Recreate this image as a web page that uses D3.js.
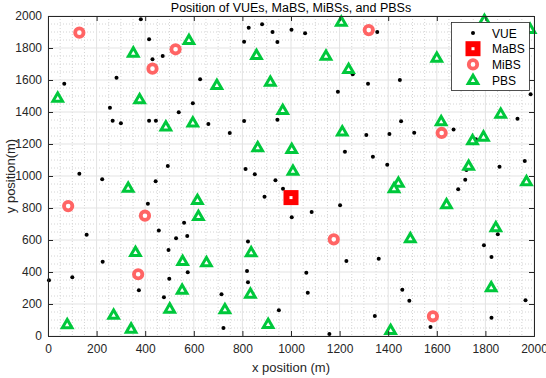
<!DOCTYPE html>
<html>
<head>
<meta charset="utf-8">
<script src="https://cdn.jsdelivr.net/npm/d3@7"></script>
<style>
  body { margin: 0; background: #fff; }
  svg { font-family: "Liberation Sans", Arial, sans-serif; }
  .tick text { fill: #262626; font-size: 12px; }
</style>
</head>
<body>
<div id="chart"></div>
<script>
// VUE positions (m)
var vueX = [382, 416, 430, 472, 282, 626, 67, 255, 596, 538, 266, 300, 416, 444, 660,
    826, 881, 924, 807, 944, 1002, 1058, 1254, 1317, 1193, 807, 944, 1355, 1448, 1986,
    1932, 1453, 1669, 129, 223, 443, 493, 411, 560, 159, 456, 527, 573, 748, 1310,
    1222, 813, 851, 936, 967, 891, 1202, 1085, 1003, 823, 1405, 1507, 1761, 1337, 1396,
    1722, 1858, 1962, 1717, 1688, 1851, 496, 225, 4, 100, 499, 575, 374, 477, 1228,
    819, 1063, 823, 714, 1069, 950, 722, 1158, 1794, 1825, 1361, 1458, 1487, 1965, 1345,
    1825, 1574];
var vueY = [1979, 1854, 1729, 1750, 1614, 1604, 1577, 1427, 1454, 1398, 1346, 1329, 1346, 1346, 1325,
    1927, 1948, 1900, 1839, 1838, 1914, 1892, 1636, 1577, 1527, 1344, 1352, 1900, 1600, 1511,
    1358, 1342, 1291, 1014, 979, 967, 1062, 827, 708, 633, 659, 611, 625, 1269, 1257,
    1152, 1044, 1011, 973, 921, 871, 817, 775, 742, 591, 1262, 1271, 1229, 1121, 1071,
    1037, 1058, 1094, 977, 917, 636, 537, 464, 348, 367, 358, 398, 286, 242, 469,
    406, 396, 336, 261, 271, 161, 50, 12, 567, 494, 483, 289, 221, 223, 125,
    114, 56];

// MaBS position
var mabsX = [1000];
var mabsY = [865];

// MiBS positions
var mibsX = [129, 525, 430, 1320, 1620, 83, 399, 1176, 371, 1584];
var mibsY = [1896, 1792, 1671, 1912, 1269, 812, 752, 604, 386, 123];

// PBS positions
var pbsX = [580, 351, 40, 377, 485, 596, 1207, 858, 1144, 1237, 695, 915, 966, 1211, 1984,
    1796, 1600, 1863, 1618, 330, 615, 619, 863, 1003, 1008, 1747, 1792, 1731, 1442, 1424,
    1969, 1640, 1843, 1491, 360, 554, 652, 552, 501, 270, 79, 342, 836, 833, 728,
    906, 1824, 1410];
var pbsY = [1850, 1771, 1489, 1479, 1309, 1334, 1964, 1756, 1752, 1669, 1569, 1589, 1412, 1278, 1919,
    1975, 1739, 1389, 1342, 927, 850, 750, 1179, 1169, 1033, 1223, 1246, 1064, 958, 923,
    967, 823, 679, 611, 525, 469, 461, 289, 171, 133, 73, 46, 523, 264, 167,
    75, 304, 37];

var axisTicks = [0, 200, 400, 600, 800, 1000, 1200, 1400, 1600, 1800, 2000];
var minorTicks = d3.range(0, 2001, 50);

var svgWidth = 546;
var svgHeight = 378;

var margin = {
    top: 16,
    bottom: 42,
    right: 12,
    left: 48
};

var width = svgWidth - margin.left - margin.right;
var height = svgHeight - margin.top - margin.bottom;

var svg = d3
    .select("#chart")
    .append("svg")
    .attr("width", svgWidth)
    .attr("height", svgHeight);

var plot = svg.append("g")
    .attr("transform", `translate(${margin.left}, ${margin.top})`);

var xScale = d3.scaleLinear().domain([0, 2000]).range([0, width]);
var yScale = d3.scaleLinear().domain([0, 2000]).range([height, 0]);

// minor grid (dotted)
plot.append("g")
    .selectAll("line")
    .data(minorTicks.filter(d => d % 200 != 0))
    .enter()
    .append("line")
    .attr("x1", d => xScale(d)).attr("x2", d => xScale(d))
    .attr("y1", 0).attr("y2", height)
    .attr("stroke", "#d4d4d4")
    .attr("stroke-dasharray", "1,2");

plot.append("g")
    .selectAll("line")
    .data(minorTicks.filter(d => d % 200 != 0))
    .enter()
    .append("line")
    .attr("y1", d => yScale(d)).attr("y2", d => yScale(d))
    .attr("x1", 0).attr("x2", width)
    .attr("stroke", "#d4d4d4")
    .attr("stroke-dasharray", "1,2");

// major grid
plot.append("g")
    .selectAll("line")
    .data(axisTicks)
    .enter()
    .append("line")
    .attr("x1", d => xScale(d)).attr("x2", d => xScale(d))
    .attr("y1", 0).attr("y2", height)
    .attr("stroke", "#e3e3e3");

plot.append("g")
    .selectAll("line")
    .data(axisTicks)
    .enter()
    .append("line")
    .attr("y1", d => yScale(d)).attr("y2", d => yScale(d))
    .attr("x1", 0).attr("x2", width)
    .attr("stroke", "#e3e3e3");

// markers
var vueData = vueX.map((x, i) => ({ x: x, y: vueY[i] }));
var mabsData = mabsX.map((x, i) => ({ x: x, y: mabsY[i] }));
var mibsData = mibsX.map((x, i) => ({ x: x, y: mibsY[i] }));
var pbsData = pbsX.map((x, i) => ({ x: x, y: pbsY[i] }));

var red = "#ff0000";
var pink = "#ff6464";
var green = "#00c83c";

function drawVue(g) {
    g.append("circle").attr("r", 2).attr("fill", "#000");
}
function drawMabs(g) {
    g.append("rect")
        .attr("x", -4.5).attr("y", -4.5)
        .attr("width", 9).attr("height", 9)
        .attr("fill", "#fff")
        .attr("stroke", red)
        .attr("stroke-width", 6);
}
function drawMibs(g) {
    g.append("circle")
        .attr("r", 4.2)
        .attr("fill", "#fff")
        .attr("stroke", pink)
        .attr("stroke-width", 3.8);
}
function drawPbs(g) {
    g.append("path")
        .attr("d", "M0,-4.8L4.8,3.5L-4.8,3.5Z")
        .attr("fill", "#fff")
        .attr("stroke", green)
        .attr("stroke-width", 3)
        .attr("stroke-linejoin", "miter");
}

function addMarkers(data, drawFn) {
    plot.append("g")
        .selectAll("g")
        .data(data)
        .enter()
        .append("g")
        .attr("transform", d => `translate(${xScale(d.x)}, ${yScale(d.y)})`)
        .each(function () { drawFn(d3.select(this)); });
}

addMarkers(vueData, drawVue);
addMarkers(mabsData, drawMabs);
addMarkers(mibsData, drawMibs);
addMarkers(pbsData, drawPbs);

// axes with inward ticks on all four sides
var axisColor = "#262626";
var fmt = d3.format("d");

var xAxis = plot.append("g")
    .attr("transform", `translate(0, ${height})`)
    .call(d3.axisBottom(xScale).tickValues(axisTicks).tickSize(-5).tickPadding(8).tickFormat(fmt));
var yAxis = plot.append("g")
    .call(d3.axisLeft(yScale).tickValues(axisTicks).tickSize(-5).tickPadding(6).tickFormat(fmt));
var xTop = plot.append("g")
    .call(d3.axisTop(xScale).tickValues(axisTicks).tickSize(-5).tickFormat(""));
var yRight = plot.append("g")
    .attr("transform", `translate(${width}, 0)`)
    .call(d3.axisRight(yScale).tickValues(axisTicks).tickSize(-5).tickFormat(""));

[xAxis, yAxis, xTop, yRight].forEach(a => {
    a.select(".domain").attr("stroke", axisColor);
    a.selectAll(".tick line").attr("stroke", axisColor);
});

// legend
var legendItems = [
    { name: "VUE", draw: drawVue },
    { name: "MaBS", draw: drawMabs },
    { name: "MiBS", draw: drawMibs },
    { name: "PBS", draw: drawPbs }
];

var legend = plot.append("g")
    .attr("transform", `translate(${451 - margin.left}, ${22 - margin.top})`);

legend.append("rect")
    .attr("x", 0.5).attr("y", 0.5)
    .attr("width", 78).attr("height", 68)
    .attr("fill", "#fff")
    .attr("stroke", axisColor)
    .attr("stroke-width", 0.8);

legendItems.forEach((item, i) => {
    var row = legend.append("g")
        .attr("transform", `translate(22, ${11 + i * 15.7})`);
    item.draw(row);
    row.append("text")
        .attr("x", 19)
        .attr("y", 4.5)
        .style("font-size", "12px")
        .attr("fill", "#000")
        .text(item.name);
});

// title and axis labels
svg.append("text")
    .attr("x", margin.left + width / 2)
    .attr("y", 12)
    .style("text-anchor", "middle")
    .style("font-size", "12.5px")
    .attr("fill", "#000")
    .text("Position of VUEs, MaBS, MiBSs, and PBSs");

svg.append("text")
    .attr("x", margin.left + width / 2)
    .attr("y", 372)
    .style("text-anchor", "middle")
    .style("font-size", "13px")
    .attr("fill", "#262626")
    .text("x position (m)");

svg.append("text")
    .attr("transform", "rotate(-90)")
    .attr("x", 0 - (margin.top + height / 2))
    .attr("y", 15)
    .style("text-anchor", "middle")
    .style("font-size", "13px")
    .attr("fill", "#262626")
    .text("y position(m)");
</script>
</body>
</html>
